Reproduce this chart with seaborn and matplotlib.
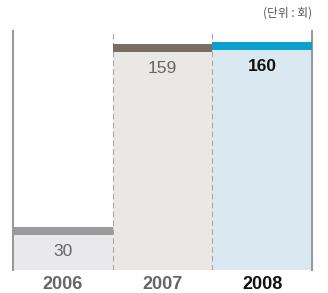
import matplotlib
matplotlib.use("Agg")
import matplotlib.pyplot as plt
import seaborn as sns
import pandas as pd

# data
years = ["2006", "2007", "2008"]
counts = [30, 159, 160]
fill_colors = ["#e9e9eb", "#eae8e4", "#d6e9f5"]
cap_colors = ["#9a9a9c", "#7a6e62", "#0aa0d0"]
text_colors = ["#666666", "#666666", "#111111"]

sns.set_style("white")
plt.rcParams['font.family'] = ['Liberation Sans', 'Noto Sans CJK KR', 'DejaVu Sans']

df = pd.DataFrame({"year": years, "count": counts})

fig = plt.figure(figsize=(3.28, 2.93), dpi=100)
ax = fig.add_axes([0.0396, 0.0785, 0.9115, 0.8157])

sns.barplot(data=df, x="year", y="count", hue="year", palette=fill_colors,
            width=1.0, legend=False, ax=ax, edgecolor="none")

# thick coloured cap on top of each bar
cap = 5.6
ax.bar(range(len(years)), [cap] * len(years), bottom=[c - cap for c in counts],
       width=1.0, color=cap_colors, edgecolor="none", zorder=3)

for i, c in enumerate(counts):
    ax.annotate(str(c), (i, c), xytext=(0, -17.5), textcoords="offset points",
                ha="center", va="center", fontsize=12.5, color=text_colors[i],
                fontweight="bold" if i == 2 else "normal")

ax.set_xlim(-0.5, 2.5)
ax.set_ylim(0, 168)
ax.set_xlabel("")
ax.set_ylabel("")
ax.set_yticks([])
ax.tick_params(axis="x", length=0, pad=4)
ax.set_xticks(range(len(years)))
ax.set_xticklabels(years, fontsize=13, fontweight="bold")
for i, lab in enumerate(ax.get_xticklabels()):
    lab.set_color(text_colors[i])

for s in ["top", "bottom"]:
    ax.spines[s].set_visible(False)
for s in ["left", "right"]:
    ax.spines[s].set_color("#9a9a9a")
    ax.spines[s].set_linewidth(1.5)

for x in [0.5, 1.5]:
    ax.axvline(x, color="#a8a8a8", linestyle=(0, (5, 3)), linewidth=0.8, zorder=2)

fig.text(0.951, 0.955, "(단위 : 회)", ha="right", va="center", fontsize=8.5,
         color="#555555", family=['Noto Sans CJK KR', 'DejaVu Sans'])

fig.savefig("out.png", dpi=100)
